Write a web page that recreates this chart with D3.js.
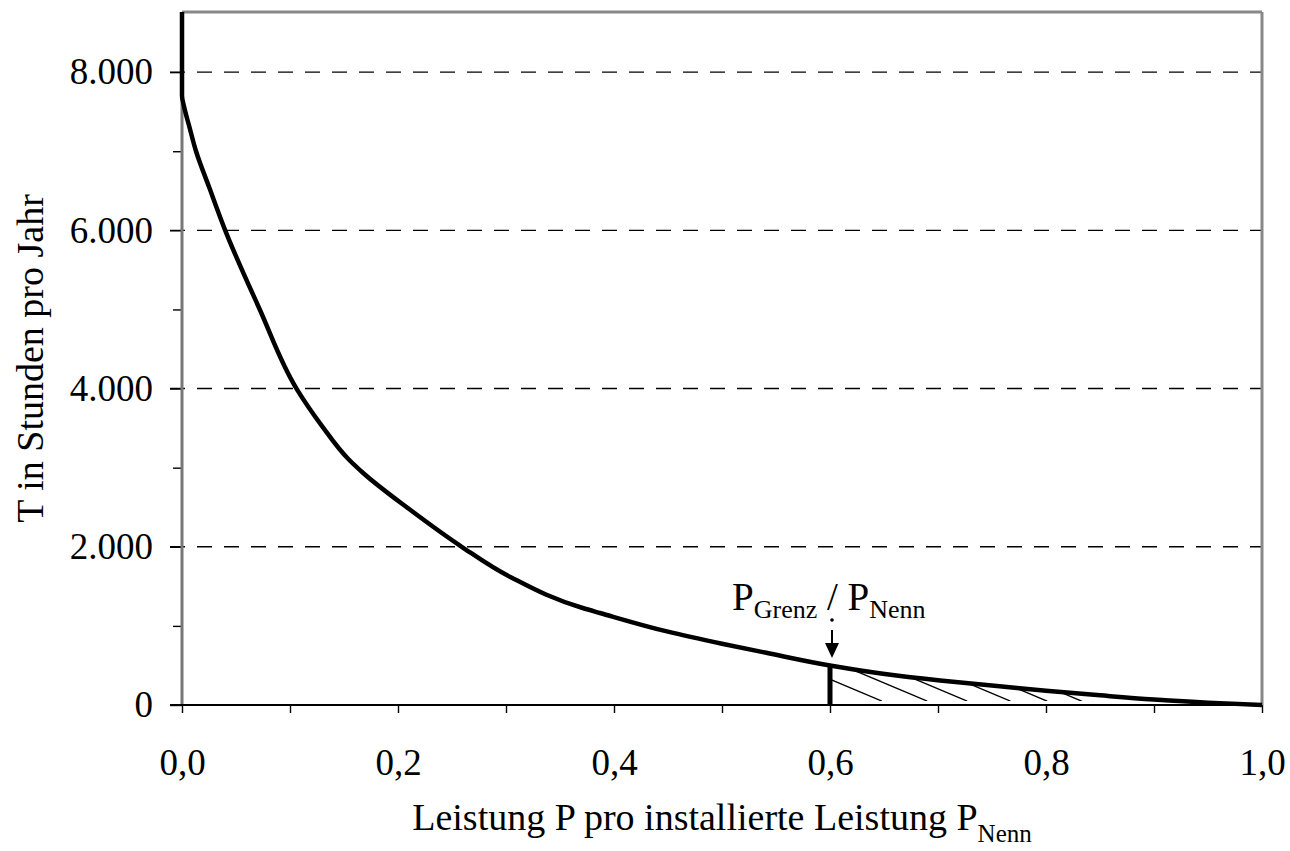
<!DOCTYPE html>
<html>
<head>
<meta charset="utf-8">
<script src="https://cdn.jsdelivr.net/npm/d3@7"></script>
<style>
  body { margin: 0; background: #fff; }
  text { font-family: "Liberation Serif", "Times New Roman", serif; fill: #000; }
</style>
</head>
<body>
<div id="chart"></div>
<script>
// duration curve: share of rated power vs. hours per year
const powerShare = [0, 0, 0.002, 0.007, 0.013, 0.025, 0.040, 0.072, 0.106, 0.130, 0.154, 0.168,
  0.210, 0.259, 0.304, 0.371, 0.387, 0.449, 0.500, 0.541, 0.600, 0.649, 0.702, 0.757, 0.800,
  0.850, 0.900, 0.950, 1.000];
const hours = [8760, 7700, 7560, 7300, 7000, 6550, 6000, 5000, 4000, 3520, 3110, 2930,
  2480, 2000, 1618, 1226, 1163, 930, 775, 660, 500, 395, 310, 238, 180,
  122, 70, 30, 0];

const yMajor = [0, 2000, 4000, 6000, 8000];
const yMinor = [1000, 3000, 5000, 7000];
const xTicks = [0, 0.1, 0.2, 0.3, 0.4, 0.5, 0.6, 0.7, 0.8, 0.9, 1.0];

const limitShare = 0.6;      // P_Grenz / P_Nenn
const hatchEnds = [0.648, 0.690, 0.727, 0.767, 0.801, 0.833];

const W = 1290, H = 851;
const margin = { top: 12, right: 28, bottom: 146, left: 182 };
const width = W - margin.left - margin.right,
      height = H - margin.top - margin.bottom;

const de = d3.formatLocale({ decimal: ",", thousands: ".", grouping: [3], currency: ["", " €"] });
const fmtY = de.format(",.0f"), fmtX = de.format(".1f");

const svg = d3.select("#chart").append("svg")
  .attr("width", W).attr("height", H)
  .append("g")
  .attr("transform", `translate(${margin.left},${margin.top})`);

const x = d3.scaleLinear().domain([0, 1]).range([0, width]);
const y = d3.scaleLinear().domain([0, 8760]).range([height, 0]);

// dashed grid lines (start at the tick)
svg.append("g").selectAll("line")
  .data(yMajor.filter(d => d > 0))
  .join("line")
  .attr("x1", -12).attr("x2", width)
  .attr("y1", d => y(d)).attr("y2", d => y(d))
  .attr("stroke", "#000").attr("stroke-width", 1.4)
  .attr("stroke-dasharray", "15,12");

// y axis, major ticks with labels
const yAxis = svg.append("g")
  .call(d3.axisLeft(y).tickValues(yMajor).tickSize(12).tickFormat(fmtY));
yAxis.select(".domain").remove();
yAxis.selectAll("line").attr("stroke", "#000").attr("stroke-width", 1.4);
yAxis.selectAll("text").attr("x", -29).attr("font-size", 37);

// minor ticks
const yMinorAxis = svg.append("g")
  .call(d3.axisLeft(y).tickValues(yMinor).tickSize(9).tickFormat(""));
yMinorAxis.select(".domain").remove();
yMinorAxis.selectAll("line").attr("stroke", "#000").attr("stroke-width", 1.4);

// x axis
const xAxis = svg.append("g")
  .attr("transform", `translate(0,${height})`)
  .call(d3.axisBottom(x).tickValues(xTicks).tickSize(8)
    .tickFormat((d, i) => i % 2 === 0 ? fmtX(d) : ""));
xAxis.select(".domain").remove();
xAxis.selectAll("line").attr("stroke", "#000").attr("stroke-width", 1.4);
xAxis.selectAll("text").attr("y", 70).attr("dy", 0).attr("font-size", 37);

// frame
svg.append("line").attr("x1", 0).attr("x2", width).attr("y1", 0).attr("y2", 0)
  .attr("stroke", "#888").attr("stroke-width", 3);
svg.append("line").attr("x1", width).attr("x2", width).attr("y1", 0).attr("y2", height)
  .attr("stroke", "#888").attr("stroke-width", 3);
svg.append("line").attr("x1", 0).attr("x2", 0).attr("y1", 0).attr("y2", height)
  .attr("stroke", "#777").attr("stroke-width", 3);
svg.append("line").attr("x1", -12).attr("x2", width).attr("y1", height).attr("y2", height)
  .attr("stroke", "#000").attr("stroke-width", 2);

const pts = powerShare.map((p, i) => [p, hours[i]]);
const line = d3.line().x(d => x(d[0])).y(d => y(d[1])).curve(d3.curveMonotoneY);

// hatched area above P_Grenz
const tail = pts.filter(d => d[0] >= limitShare);
const hatchFloor = 50;
svg.append("clipPath").attr("id", "hatchClip")
  .append("path")
  .attr("d", line(tail) + `L${x(1)},${y(hatchFloor)}L${x(limitShare)},${y(hatchFloor)}Z`);

svg.append("g").attr("clip-path", "url(#hatchClip)")
  .selectAll("line").data(hatchEnds).join("line")
  .attr("x1", d => x(d)).attr("y1", y(hatchFloor))
  .attr("x2", d => x(d) - 120).attr("y2", y(hatchFloor) - 120 * 0.42)
  .attr("stroke", "#000").attr("stroke-width", 1.4);

// duration curve
svg.append("path")
  .datum(pts)
  .attr("fill", "none")
  .attr("stroke", "#000")
  .attr("stroke-width", 4.5)
  .attr("stroke-linejoin", "round")
  .attr("d", line);

// vertical bar at P_Grenz
const limitHours = hours[powerShare.indexOf(limitShare)];
svg.append("line")
  .attr("x1", x(limitShare)).attr("x2", x(limitShare))
  .attr("y1", y(0)).attr("y2", y(limitHours))
  .attr("stroke", "#000").attr("stroke-width", 5);

// arrow pointing at the limit
const ax = x(limitShare) + 2;
svg.append("circle").attr("cx", ax).attr("cy", 608).attr("r", 1.8).attr("fill", "#000");
svg.append("line").attr("x1", ax).attr("x2", ax).attr("y1", 618).attr("y2", 633)
  .attr("stroke", "#000").attr("stroke-width", 2);
svg.append("path")
  .attr("d", `M${ax - 7},631L${ax + 7},631L${ax},646Z`)
  .attr("fill", "#000");

// annotation
const ann = svg.append("text")
  .attr("x", 550).attr("y", 598)
  .attr("font-size", 39);
ann.append("tspan").text("P");
ann.append("tspan").attr("font-size", 26).attr("dy", 8).text("Grenz");
ann.append("tspan").attr("dy", -8).text(" / P");
ann.append("tspan").attr("font-size", 26).attr("dy", 8).text("Nenn");

// axis titles
const xt = svg.append("text")
  .attr("x", width / 2).attr("y", 818)
  .attr("text-anchor", "middle")
  .attr("font-size", 38);
xt.append("tspan").text("Leistung P pro installierte Leistung P");
xt.append("tspan").attr("font-size", 25).attr("dy", 12).text("Nenn");

svg.append("text")
  .attr("transform", `translate(-139,${height / 2}) rotate(-90)`)
  .attr("text-anchor", "middle")
  .attr("font-size", 38)
  .text("T in Stunden pro Jahr");
</script>
</body>
</html>
